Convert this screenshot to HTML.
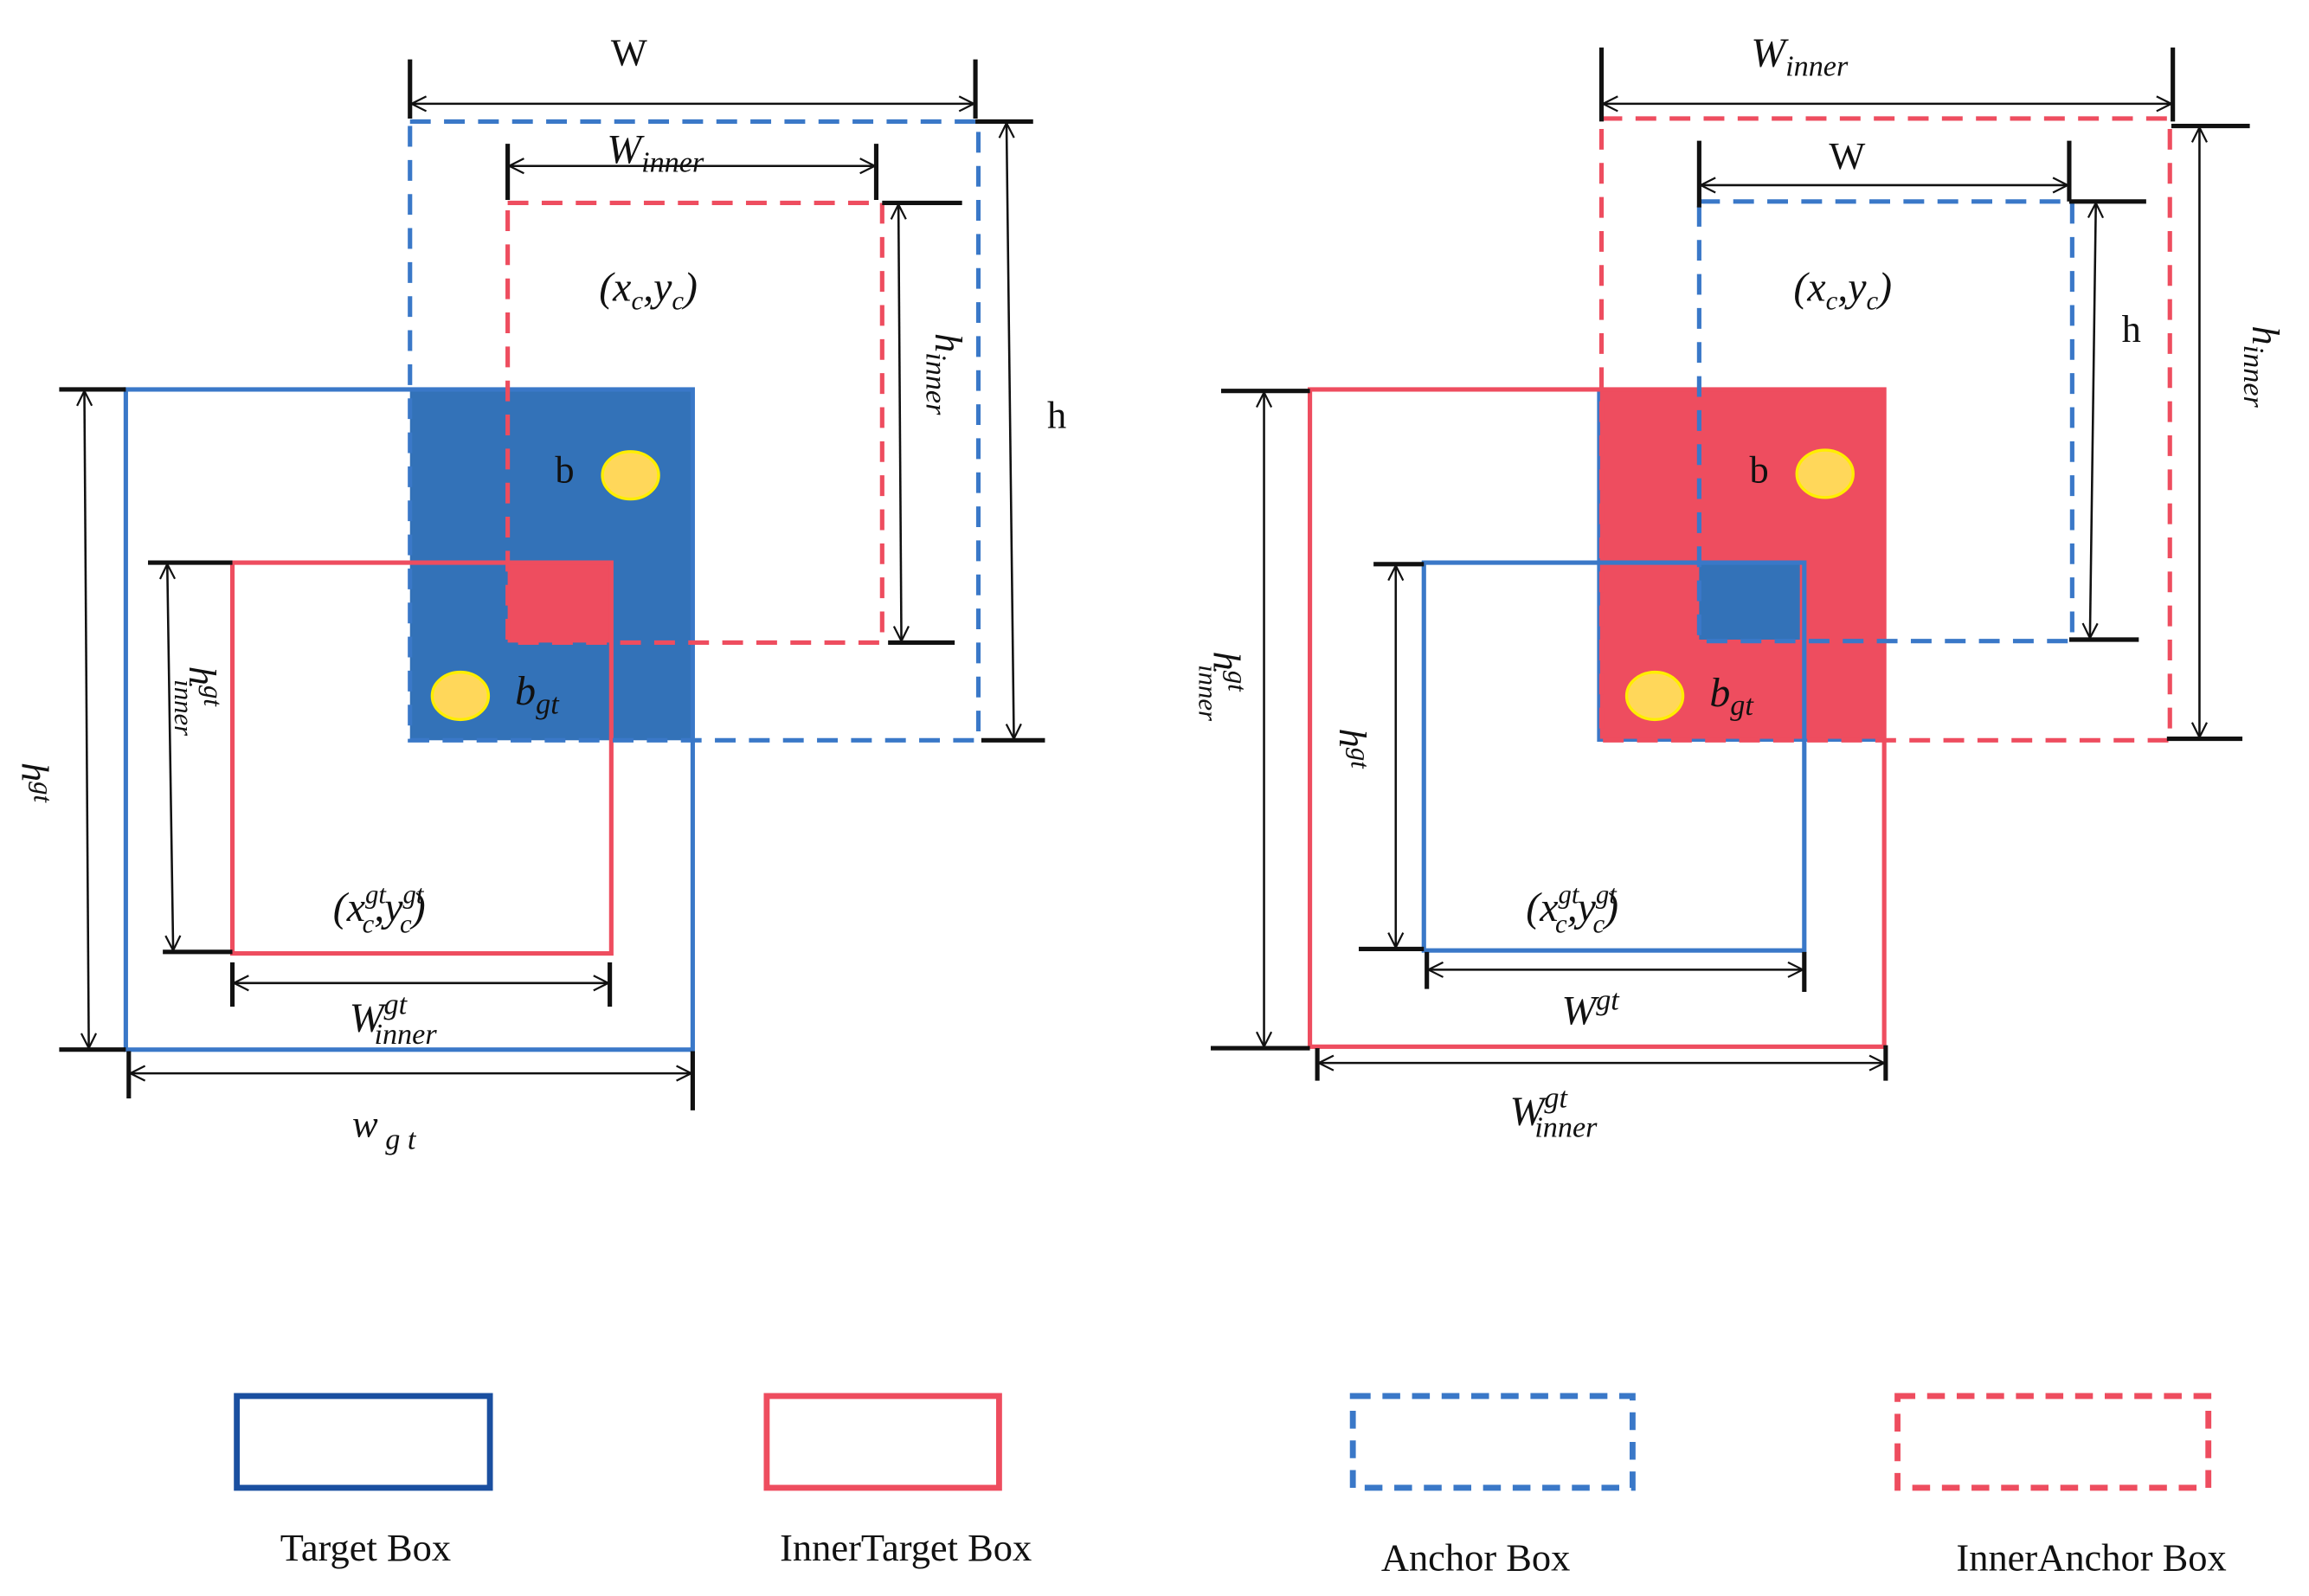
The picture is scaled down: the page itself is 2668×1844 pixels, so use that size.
<!DOCTYPE html>
<html><head><meta charset="utf-8"><style>
html,body{margin:0;padding:0;background:#fff}
svg{display:block}
text{font-family:"Liberation Serif",serif;fill:#111}
.m{font-style:italic}
</style></head><body>
<svg width="2668" height="1844" viewBox="0 0 1560 1078" xmlns="http://www.w3.org/2000/svg">
<defs>
<marker id="a" viewBox="0 0 12 12" refX="11" refY="6" markerWidth="12" markerHeight="12" markerUnits="userSpaceOnUse" orient="auto-start-reverse"><path d="M1,1 L11,6 L1,11" fill="none" stroke="#111" stroke-width="1.3"/></marker>
</defs>
<g stroke-linecap="butt">
<!-- LEFT -->
<rect x="277" y="263" width="190" height="237" fill="#3372b8"/>
<rect x="343" y="380" width="70" height="54" fill="#ee4d5f"/>
<rect x="85" y="263" width="383" height="446" fill="none" stroke="#3a78c8" stroke-width="3"/>
<rect x="157" y="380" width="256" height="264" fill="none" stroke="#ee4d5f" stroke-width="3"/>
<rect x="277" y="82" width="384" height="418" fill="none" stroke="#3a78c8" stroke-width="3" stroke-dasharray="14,9"/>
<rect x="343" y="137" width="253" height="297" fill="none" stroke="#ee4d5f" stroke-width="3" stroke-dasharray="14,9"/>
<ellipse cx="426" cy="321" rx="19" ry="16" fill="#ffd75a" stroke="#ffee00" stroke-width="2"/>
<ellipse cx="311" cy="470" rx="19" ry="16" fill="#ffd75a" stroke="#ffee00" stroke-width="2"/>
<g stroke="#111" fill="none">
<path d="M277,40V80 M659,40V80" stroke-width="3"/>
<line x1="278" y1="70" x2="658" y2="70" stroke-width="1.5" marker-start="url(#a)" marker-end="url(#a)"/>
<path d="M343,97V135 M592,97V135" stroke-width="3"/>
<line x1="344" y1="112" x2="591" y2="112" stroke-width="1.5" marker-start="url(#a)" marker-end="url(#a)"/>
<path d="M596,137H650 M600,434H645" stroke-width="3"/>
<line x1="607" y1="138" x2="609" y2="433" stroke-width="1.5" marker-start="url(#a)" marker-end="url(#a)"/>
<path d="M659,82H698 M663,500H706" stroke-width="3"/>
<line x1="680" y1="83" x2="685" y2="499" stroke-width="1.5" marker-start="url(#a)" marker-end="url(#a)"/>
<path d="M40,263H85 M40,709H85" stroke-width="3"/>
<line x1="57" y1="264" x2="60" y2="708" stroke-width="1.5" marker-start="url(#a)" marker-end="url(#a)"/>
<path d="M100,380H157 M110,643H157" stroke-width="3"/>
<line x1="113" y1="381" x2="117" y2="642" stroke-width="1.5" marker-start="url(#a)" marker-end="url(#a)"/>
<path d="M157,650V680 M412,650V680" stroke-width="3"/>
<line x1="158" y1="664" x2="411" y2="664" stroke-width="1.5" marker-start="url(#a)" marker-end="url(#a)"/>
<path d="M87,710V742 M468,710V750" stroke-width="3"/>
<line x1="88" y1="725" x2="467" y2="725" stroke-width="1.5" marker-start="url(#a)" marker-end="url(#a)"/>
</g>
<!-- RIGHT -->
<rect x="1080" y="263" width="193" height="237" fill="#ee4d5f" stroke="#3a78c8" stroke-width="2"/>
<rect x="1148" y="381" width="68" height="51" fill="#3372b8"/>
<rect x="885" y="263" width="388" height="444" fill="none" stroke="#ee4d5f" stroke-width="3"/>
<rect x="962" y="380" width="257" height="262" fill="none" stroke="#3a78c8" stroke-width="3"/>
<rect x="1082" y="80" width="384" height="420" fill="none" stroke="#ee4d5f" stroke-width="3" stroke-dasharray="14,9"/>
<rect x="1148" y="136" width="252" height="297" fill="none" stroke="#3a78c8" stroke-width="3" stroke-dasharray="14,9"/>
<ellipse cx="1233" cy="320" rx="19" ry="16" fill="#ffd75a" stroke="#ffee00" stroke-width="2"/>
<ellipse cx="1118" cy="470" rx="19" ry="16" fill="#ffd75a" stroke="#ffee00" stroke-width="2"/>
<g stroke="#111" fill="none">
<path d="M1082,32V82 M1468,32V82" stroke-width="3"/>
<line x1="1083" y1="70" x2="1467" y2="70" stroke-width="1.5" marker-start="url(#a)" marker-end="url(#a)"/>
<path d="M1148,95V140 M1398,95V136" stroke-width="3"/>
<line x1="1149" y1="125" x2="1397" y2="125" stroke-width="1.5" marker-start="url(#a)" marker-end="url(#a)"/>
<path d="M1398,136H1450 M1398,432H1445" stroke-width="3"/>
<line x1="1416" y1="137" x2="1412" y2="431" stroke-width="1.5" marker-start="url(#a)" marker-end="url(#a)"/>
<path d="M1467,85H1520 M1464,499H1515" stroke-width="3"/>
<line x1="1486" y1="86" x2="1486" y2="498" stroke-width="1.5" marker-start="url(#a)" marker-end="url(#a)"/>
<path d="M825,264H885 M818,708H885" stroke-width="3"/>
<line x1="854" y1="265" x2="854" y2="707" stroke-width="1.5" marker-start="url(#a)" marker-end="url(#a)"/>
<path d="M928,381H962 M918,641H962" stroke-width="3"/>
<line x1="943" y1="382" x2="943" y2="640" stroke-width="1.5" marker-start="url(#a)" marker-end="url(#a)"/>
<path d="M964,643V668 M1219,643V670" stroke-width="3"/>
<line x1="965" y1="655" x2="1218" y2="655" stroke-width="1.5" marker-start="url(#a)" marker-end="url(#a)"/>
<path d="M890,708V730 M1274,706V730" stroke-width="3"/>
<line x1="891" y1="718" x2="1273" y2="718" stroke-width="1.5" marker-start="url(#a)" marker-end="url(#a)"/>
</g>
<!-- LEGEND -->
<rect x="160" y="943" width="171" height="62" fill="none" stroke="#1a4fa0" stroke-width="4"/>
<rect x="518" y="943" width="157" height="62" fill="none" stroke="#ee4d5f" stroke-width="4"/>
<rect x="914" y="943" width="189" height="62" fill="none" stroke="#3a78c8" stroke-width="4" stroke-dasharray="12,8"/>
<rect x="1282" y="943" width="210" height="62" fill="none" stroke="#ee4d5f" stroke-width="4" stroke-dasharray="12,8"/>
</g>
<!-- TEXT LEFT -->
<text x="425" y="44" font-size="26" text-anchor="middle">W</text>
<text x="410" y="110" font-size="28" class="m">W<tspan font-size="20" dy="6">inner</tspan></text>
<text x="438" y="203" font-size="28" text-anchor="middle" class="m">(x<tspan font-size="18" dy="6">c</tspan><tspan dy="-6">,y</tspan><tspan font-size="18" dy="6">c</tspan><tspan dy="-6">)</tspan></text>
<text x="714" y="289" font-size="26" text-anchor="middle">h</text>
<text x="632" y="225" font-size="26" class="m" transform="rotate(90 632 225)">h<tspan font-size="20" dy="6">inner</tspan></text>
<text x="375" y="326" font-size="26">b</text>
<text x="348" y="476" font-size="28" class="m">b<tspan font-size="20" dy="6">gt</tspan></text>
<text x="225" y="622" font-size="28" class="m">(x<tspan font-size="18" dy="-12">gt</tspan><tspan font-size="18" dx="-16" dy="20">c</tspan><tspan dy="-8">,y</tspan><tspan font-size="18" dy="-12">gt</tspan><tspan font-size="18" dx="-16" dy="20">c</tspan><tspan dy="-8">)</tspan></text>
<text x="128" y="450" font-size="26" class="m" transform="rotate(90 128 450)">h<tspan font-size="18" dy="-10">gt</tspan><tspan font-size="18" dx="-18" dy="20">inner</tspan></text>
<text x="15" y="515" font-size="26" class="m" transform="rotate(90 15 515)">h<tspan font-size="18" dy="-8">gt</tspan></text>
<text x="236" y="697" font-size="28" class="m">W<tspan font-size="20" dy="-12">gt</tspan><tspan font-size="20" dx="-22" dy="20">inner</tspan></text>
<text x="238" y="768" font-size="26" class="m">w<tspan font-size="20" dy="8"> g t</tspan></text>
<!-- TEXT RIGHT -->
<text x="1183" y="45" font-size="28" class="m">W<tspan font-size="20" dy="6">inner</tspan></text>
<text x="1248" y="114" font-size="26" text-anchor="middle">W</text>
<text x="1245" y="203" font-size="28" text-anchor="middle" class="m">(x<tspan font-size="18" dy="6">c</tspan><tspan dy="-6">,y</tspan><tspan font-size="18" dy="6">c</tspan><tspan dy="-6">)</tspan></text>
<text x="1440" y="231" font-size="26" text-anchor="middle">h</text>
<text x="1522" y="220" font-size="26" class="m" transform="rotate(90 1522 220)">h<tspan font-size="20" dy="6">inner</tspan></text>
<text x="1182" y="326" font-size="26">b</text>
<text x="1155" y="477" font-size="28" class="m">b<tspan font-size="20" dy="6">gt</tspan></text>
<text x="1031" y="622" font-size="28" class="m">(x<tspan font-size="18" dy="-12">gt</tspan><tspan font-size="18" dx="-16" dy="20">c</tspan><tspan dy="-8">,y</tspan><tspan font-size="18" dy="-12">gt</tspan><tspan font-size="18" dx="-16" dy="20">c</tspan><tspan dy="-8">)</tspan></text>
<text x="820" y="440" font-size="26" class="m" transform="rotate(90 820 440)">h<tspan font-size="18" dy="-10">gt</tspan><tspan font-size="18" dx="-18" dy="20">inner</tspan></text>
<text x="905" y="492" font-size="26" class="m" transform="rotate(90 905 492)">h<tspan font-size="18" dy="-8">gt</tspan></text>
<text x="1055" y="692" font-size="28" class="m">W<tspan font-size="20" dy="-10">gt</tspan></text>
<text x="1020" y="760" font-size="28" class="m">W<tspan font-size="20" dy="-12">gt</tspan><tspan font-size="20" dx="-22" dy="20">inner</tspan></text>
<!-- LEGEND TEXT -->
<text x="247" y="1054" font-size="26" text-anchor="middle">Target  Box</text>
<text x="612" y="1054" font-size="26" text-anchor="middle">InnerTarget  Box</text>
<text x="997" y="1061" font-size="26" text-anchor="middle">Anchor  Box</text>
<text x="1413" y="1061" font-size="26" text-anchor="middle">InnerAnchor  Box</text>
</svg>
</body></html>
